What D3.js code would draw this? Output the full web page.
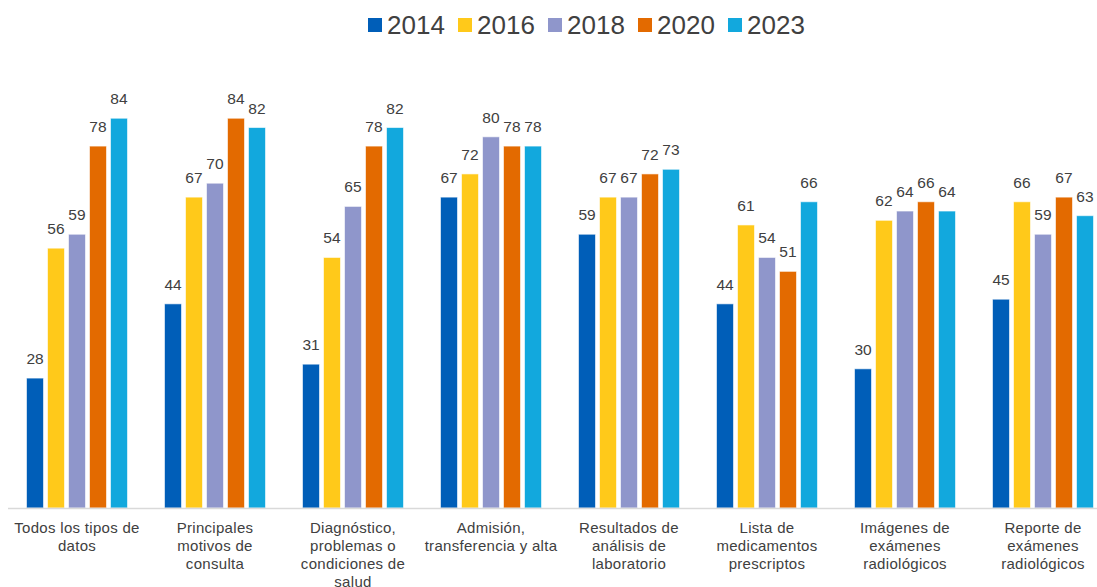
<!DOCTYPE html>
<html>
<head>
<meta charset="utf-8">
<script src="https://cdn.jsdelivr.net/npm/d3@7"></script>
<style>
  html, body { margin: 0; padding: 0; background: #fff; }
  svg { display: block; font-family: "Liberation Sans", Arial, sans-serif; }
</style>
</head>
<body>
<svg id="chart" width="1097" height="587"></svg>
<script>
// Category labels, one entry per line of the wrapped label
const categories = [
  ["Todos los tipos de", "datos"],
  ["Principales", "motivos de", "consulta"],
  ["Diagnóstico,", "problemas o", "condiciones de", "salud"],
  ["Admisión,", "transferencia y alta"],
  ["Resultados de", "análisis de", "laboratorio"],
  ["Lista de", "medicamentos", "prescriptos"],
  ["Imágenes de", "exámenes", "radiológicos"],
  ["Reporte de", "exámenes", "radiológicos"]
];

const years = ["2014", "2016", "2018", "2020", "2023"];

// Percent values per year, in category order
const v2014 = [28, 44, 31, 67, 59, 44, 30, 45];
const v2016 = [56, 67, 54, 72, 67, 61, 62, 66];
const v2018 = [59, 70, 65, 80, 67, 54, 64, 59];
const v2020 = [78, 84, 78, 78, 72, 51, 66, 67];
const v2023 = [84, 82, 82, 78, 73, 66, 64, 63];

const seriesValues = [v2014, v2016, v2018, v2020, v2023];
const colors = ["#005EB8", "#FFC91A", "#8F96CB", "#E36A00", "#12A8DD"];

const svg = d3.select("#chart");
const keys = categories.map((c, i) => "c" + i);

const x0 = d3.scaleBand()
  .domain(keys)
  .range([8, 1112])
  .paddingInner(0.268)
  .paddingOuter(0.134);

const x1 = d3.scaleBand()
  .domain(years)
  .range([0, x0.bandwidth()])
  .paddingInner(0.19)
  .paddingOuter(0);

const y = d3.scaleLinear().domain([0, 100]).range([508, 44]);

const color = d3.scaleOrdinal().domain(years).range(colors);

// Bars and value labels
const groups = svg.append("g").selectAll("g")
  .data(keys)
  .join("g")
  .attr("transform", d => `translate(${x0(d)},0)`);

const cells = groups.selectAll("g")
  .data((k, ci) => years.map((yr, si) => ({ yr, value: seriesValues[si][ci] })))
  .join("g");

cells.append("rect")
  .attr("x", d => x1(d.yr))
  .attr("y", d => y(d.value))
  .attr("width", x1.bandwidth())
  .attr("height", d => y(0) - y(d.value))
  .attr("fill", d => color(d.yr))
  .attr("stroke", "#ffffff")
  .attr("stroke-opacity", 0.6)
  .attr("stroke-width", 1);

cells.append("text")
  .attr("x", d => x1(d.yr) + x1.bandwidth() / 2)
  .attr("y", d => y(d.value) - 14)
  .attr("text-anchor", "middle")
  .attr("font-size", 15.5)
  .attr("fill", "#404040")
  .text(d => d.value);

// Category axis
const xAxis = d3.axisBottom(x0).tickSize(0).tickFormat("");
const axisG = svg.append("g")
  .attr("transform", `translate(0,${y(0)})`)
  .call(xAxis);
axisG.select(".domain")
  .attr("stroke", "#d9d9d9")
  .attr("stroke-width", 1.5)
  .attr("d", "M8,0.5H1097");

const labelG = svg.append("g");
keys.forEach((k, i) => {
  const cx = x0(k) + x0.bandwidth() / 2;
  const t = labelG.append("text")
    .attr("x", cx)
    .attr("y", 533)
    .attr("text-anchor", "middle")
    .attr("font-size", 15)
    .attr("letter-spacing", 0.3)
    .attr("fill", "#404040");
  categories[i].forEach((line, j) => {
    t.append("tspan")
      .attr("x", cx)
      .attr("dy", j === 0 ? 0 : 18)
      .text(line);
  });
});

// Legend
const legend = svg.append("g").attr("transform", "translate(368,0)");
const entries = legend.selectAll("g")
  .data(years)
  .join("g")
  .attr("transform", (d, i) => `translate(${i * 90},0)`);
entries.append("rect")
  .attr("x", 0)
  .attr("y", 18)
  .attr("width", 14)
  .attr("height", 14)
  .attr("fill", d => color(d));
entries.append("text")
  .attr("x", 19)
  .attr("y", 34)
  .attr("font-size", 26)
  .attr("fill", "#404040")
  .text(d => d);
</script>
</body>
</html>
